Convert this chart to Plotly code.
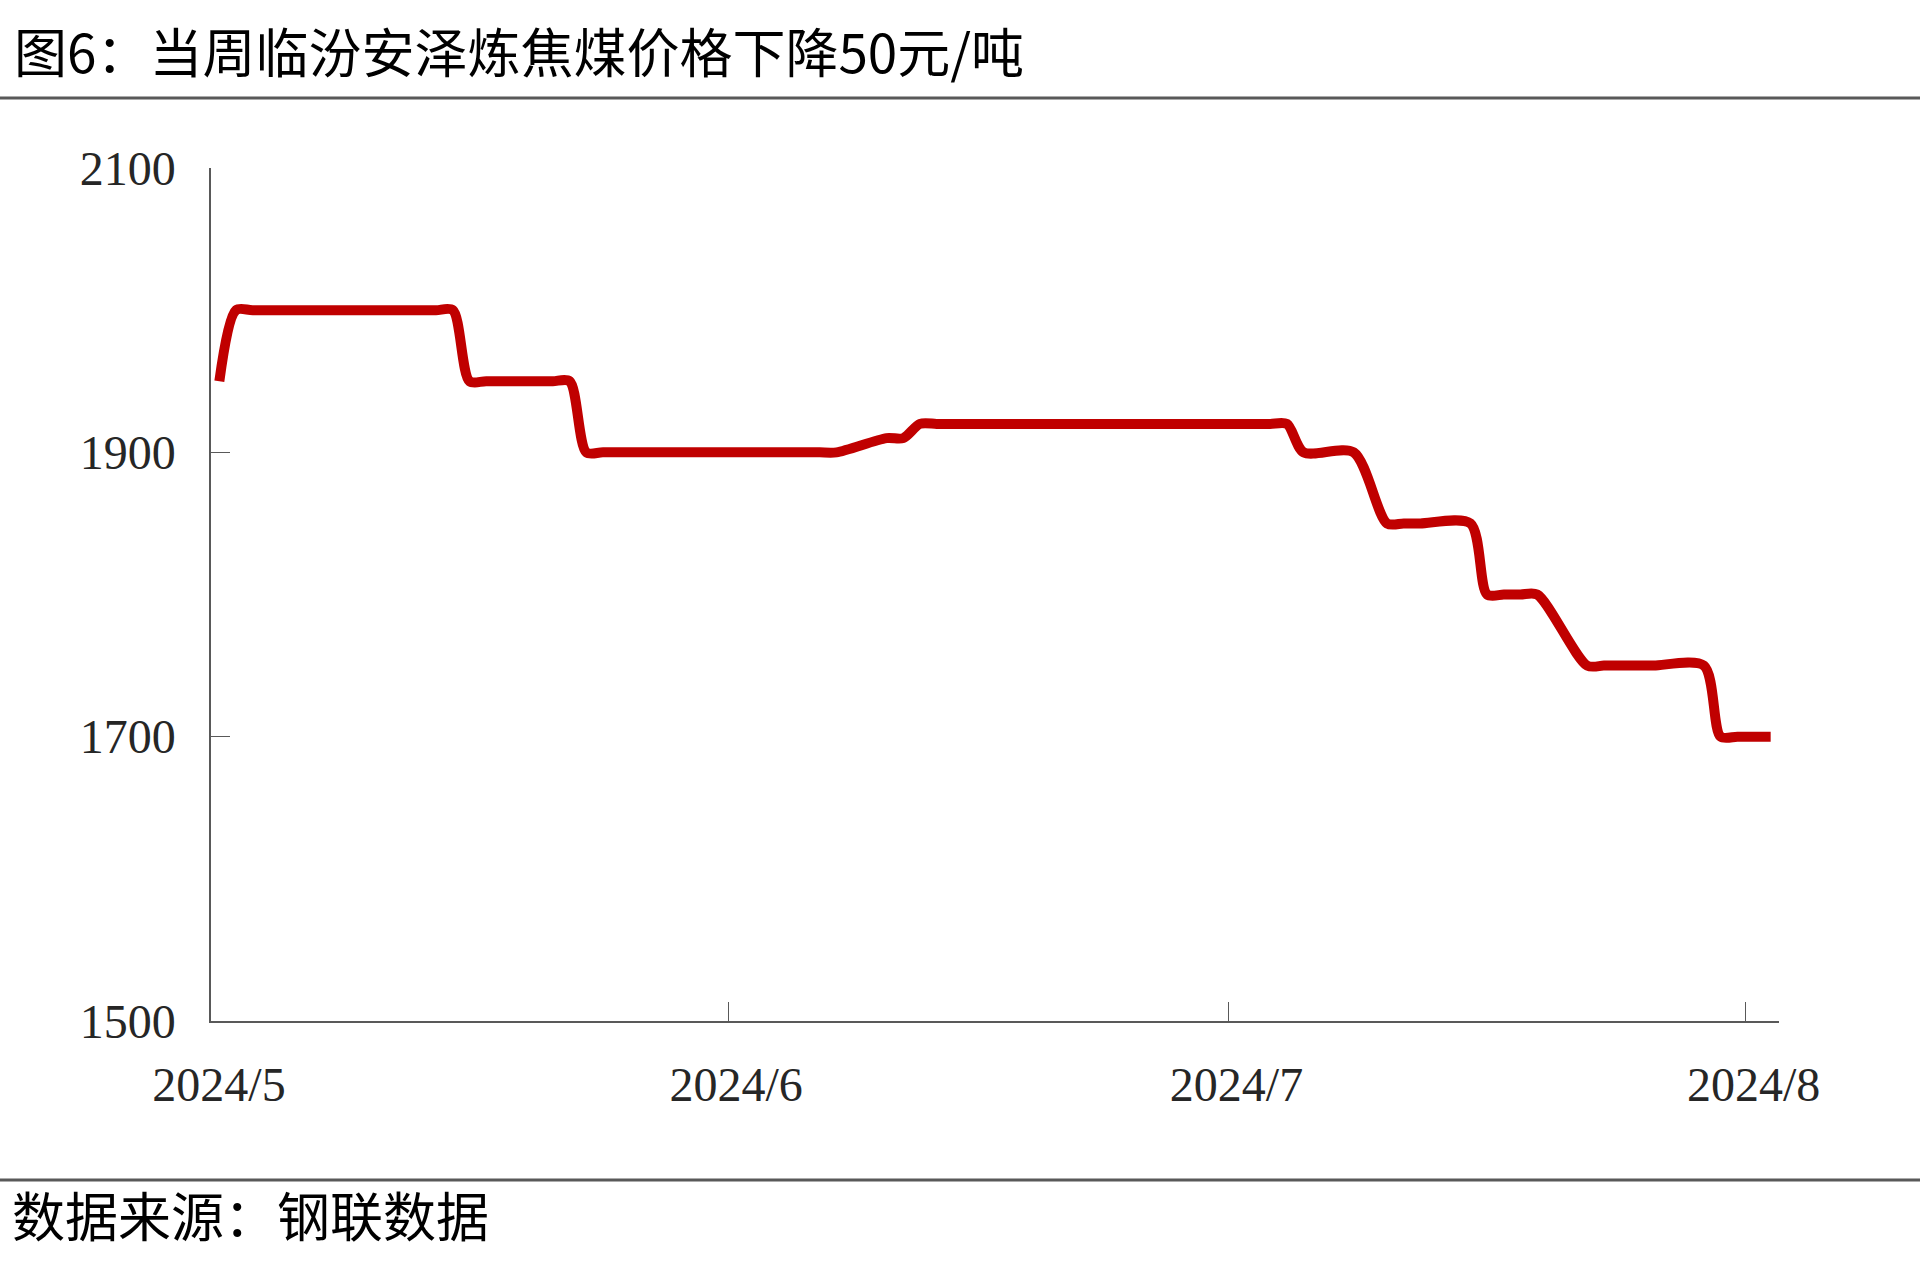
import pandas as pd
import plotly.graph_objects as go

# ---------------- data ----------------
dates = [
    "2024-05-01", "2024-05-02", "2024-05-03",
    "2024-05-06", "2024-05-07", "2024-05-08", "2024-05-09", "2024-05-10",
    "2024-05-13", "2024-05-14", "2024-05-15", "2024-05-16", "2024-05-17",
    "2024-05-20", "2024-05-21", "2024-05-22", "2024-05-23", "2024-05-24",
    "2024-05-27", "2024-05-28", "2024-05-29", "2024-05-30", "2024-05-31",
    "2024-06-03", "2024-06-04", "2024-06-05", "2024-06-06", "2024-06-07",
    "2024-06-10", "2024-06-11", "2024-06-12", "2024-06-13", "2024-06-14",
    "2024-06-17", "2024-06-18", "2024-06-19", "2024-06-20", "2024-06-21",
    "2024-06-24", "2024-06-25", "2024-06-26", "2024-06-27", "2024-06-28",
    "2024-07-01", "2024-07-02", "2024-07-03", "2024-07-04", "2024-07-05",
    "2024-07-08", "2024-07-10", "2024-07-11", "2024-07-12",
    "2024-07-15", "2024-07-16", "2024-07-17", "2024-07-18", "2024-07-19",
    "2024-07-22", "2024-07-23", "2024-07-24", "2024-07-25", "2024-07-26",
    "2024-07-29", "2024-07-30", "2024-07-31", "2024-08-01", "2024-08-02",
]
prices = [
    1950, 2000, 2000,
    2000, 2000, 2000, 2000, 2000,
    2000, 2000, 2000, 1950, 1950,
    1950, 1950, 1950, 1900, 1900,
    1900, 1900, 1900, 1900, 1900,
    1900, 1900, 1900, 1900, 1900,
    1910, 1910, 1920, 1920, 1920,
    1920, 1920, 1920, 1920, 1920,
    1920, 1920, 1920, 1920, 1920,
    1920, 1920, 1920, 1920, 1900,
    1900, 1850, 1850, 1850,
    1850, 1800, 1800, 1800, 1800,
    1750, 1750, 1750, 1750, 1750,
    1750, 1700, 1700, 1700, 1700,
]
month_ticks = ["2024-05-01", "2024-06-01", "2024-07-01", "2024-08-01"]
month_labels = ["2024/5", "2024/6", "2024/7", "2024/8"]
y_ticks = [1500, 1700, 1900, 2100]
x_range = ["2024-05-01", "2024-08-03"]
y_range = [1500, 2100]

title_text = "图6：当周临汾安泽炼焦煤价格下降50元/吨"
source_text = "数据来源：钢联数据"

# ---------------- layout constants (pixels) ----------------
W, H = 1920, 1279
L, R, T, B = 211, 141, 168, 258
PW, PH = W - L - R, H - T - B


def px_x(px):
    return (px - L) / PW


def px_y(py):
    return (H - B - py) / PH


# each daily value sits in the middle of its day slot
x_vals = pd.to_datetime(dates) + pd.Timedelta(hours=12)

fig = go.Figure()
fig.add_trace(go.Scatter(
    x=x_vals, y=prices, mode="lines",
    line=dict(color="#C00000", width=10, shape="spline", smoothing=0.8),
    showlegend=False, hoverinfo="skip",
))

axis_color = "#595959"
tick_font = dict(family="Liberation Serif, Times New Roman, serif", size=48, color="#262626")
cjk_font = "Noto Sans CJK SC, Noto Sans, sans-serif"

fig.update_layout(
    width=W, height=H,
    margin=dict(l=L, r=R, t=T, b=B, pad=0),
    paper_bgcolor="white", plot_bgcolor="white",
    xaxis=dict(
        type="date", range=x_range,
        tickmode="array", tickvals=month_ticks, ticktext=month_labels,
        ticks="inside", ticklen=19, tickwidth=1, tickcolor=axis_color,
        showline=True, linecolor=axis_color, linewidth=1.5,
        showgrid=False, zeroline=False,
        tickfont=tick_font, ticklabelshift=8, ticklabelstandoff=21,
    ),
    yaxis=dict(
        range=y_range, tickmode="array", tickvals=y_ticks,
        ticks="inside", ticklen=19, tickwidth=1, tickcolor=axis_color,
        showline=True, linecolor=axis_color, linewidth=1.5,
        showgrid=False, zeroline=False,
        tickfont=tick_font, ticklabelstandoff=24,
    ),
    shapes=[
        dict(type="line", xref="paper", yref="paper",
             x0=px_x(0), x1=px_x(W), y0=px_y(98), y1=px_y(98),
             line=dict(color=axis_color, width=3)),
        dict(type="line", xref="paper", yref="paper",
             x0=px_x(0), x1=px_x(W), y0=px_y(1180), y1=px_y(1180),
             line=dict(color=axis_color, width=3)),
    ],
    annotations=[
        dict(text=title_text, xref="paper", yref="paper",
             x=px_x(12), y=px_y(50), xanchor="left", yanchor="middle",
             showarrow=False, font=dict(family=cjk_font, size=53, color="black")),
        dict(text=source_text, xref="paper", yref="paper",
             x=px_x(10), y=px_y(1214), xanchor="left", yanchor="middle",
             showarrow=False, font=dict(family=cjk_font, size=53, color="black")),
    ],
)

fig.write_html(
    "out.html",
    config={"displayModeBar": False},
    post_script="document.body.style.margin='0';document.documentElement.style.overflow='hidden';",
)
